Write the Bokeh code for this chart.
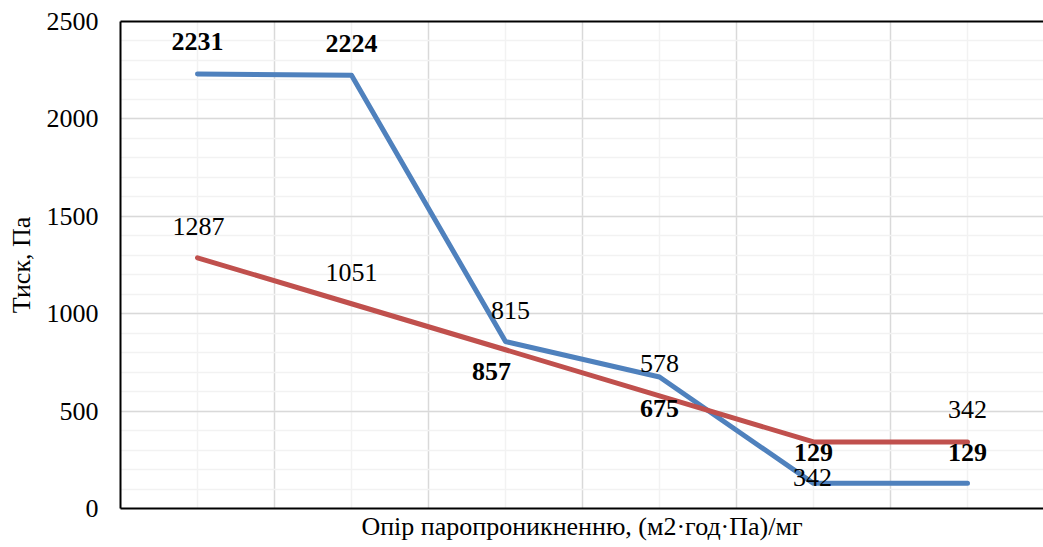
from bokeh.plotting import figure
from bokeh.models import Range1d, FixedTicker, LinearAxis, ColumnDataSource, Grid
from bokeh.core.properties import value
from bokeh.embed import file_html
from bokeh.resources import INLINE

# ---- data ----
points = [1, 2, 3, 4, 5, 6]                       # measurement points (no tick labels shown)
blue_values = [2231, 2224, 857, 675, 129, 129]    # series 1 (bold labels)
red_values = [1287, 1051, 815, 578, 342, 342]     # series 2 (regular labels)
y_ticks = [0, 500, 1000, 1500, 2000, 2500]
x_title = "Опір паропроникненню, (м2·год·Па)/мг"
y_title = "Тиск, Па"

# label offsets in screen pixels (dx, dy; dy positive = downwards)
blue_dx = [0, 0, -14, 0, 0, 0]
blue_dy = [-32, -32, 30, 31, -31, -31]
red_dx = [1, 0, 5, 0, -1, 0]
red_dy = [-31, -31, -39, -32, 36, -32]

FONT = "Liberation Serif"
BLUE = "#4F81BD"
RED = "#C0504D"

W, H = 1043, 547
p = figure(width=W, height=H, output_backend="svg", toolbar_location=None,
           x_range=Range1d(0.5, 0.5 + 923 / 154), y_range=Range1d(0, 2500),
           x_axis_location=None, y_axis_location=None,
           min_border_left=120, min_border_top=21, min_border_right=0,
           min_border_bottom=39)
p.outline_line_color = None
p.background_fill_color = "white"
p.border_fill_color = "white"

# axes
yax = LinearAxis(ticker=FixedTicker(ticks=y_ticks))
yax.axis_label = y_title
yax.axis_label_text_font = FONT
yax.axis_label_text_font_size = "26px"
yax.axis_label_text_font_style = "normal"
yax.axis_label_text_color = "black"
yax.axis_label_standoff = 8
yax.major_label_text_font = FONT
yax.major_label_text_font_size = "26px"
yax.major_label_text_color = "black"
yax.major_label_standoff = 22
yax.major_tick_out = 0
yax.major_tick_in = 0
yax.minor_tick_out = 0
yax.minor_tick_in = 0
yax.axis_line_color = "black"
yax.axis_line_width = 2
p.add_layout(yax, "left")

xax = LinearAxis(ticker=FixedTicker(ticks=[]))
xax.axis_label = x_title
xax.axis_label_text_font = FONT
xax.axis_label_text_font_size = "26px"
xax.axis_label_text_font_style = "normal"
xax.axis_label_text_color = "black"
xax.axis_label_standoff = 3
xax.major_label_standoff = 0
xax.major_tick_out = 0
xax.major_tick_in = 0
xax.minor_tick_out = 0
xax.minor_tick_in = 0
xax.axis_line_color = "black"
xax.axis_line_width = 2
p.add_layout(xax, "below")

tax = LinearAxis(ticker=FixedTicker(ticks=[]))
tax.major_label_standoff = 0
tax.major_tick_out = 0
tax.major_tick_in = 0
tax.minor_tick_out = 0
tax.minor_tick_in = 0
tax.axis_line_color = "black"
tax.axis_line_width = 2
p.add_layout(tax, "above")

# grids
xgrid = Grid(dimension=0, ticker=FixedTicker(
    ticks=[v - 0.5 for v in points] + [points[-1] + 0.5], minor_ticks=points))
ygrid = Grid(dimension=1, ticker=FixedTicker(
    ticks=y_ticks, minor_ticks=list(range(0, 2501, 100))))
for g in (xgrid, ygrid):
    g.grid_line_color = "#D9D9D9"
    g.grid_line_width = 1.5
    g.minor_grid_line_color = "#F2F2F2"
    g.minor_grid_line_width = 1.5
    g.level = "underlay"
    p.add_layout(g)

src = ColumnDataSource(dict(x=points, blue=blue_values, red=red_values,
                            blue_txt=[str(v) for v in blue_values],
                            red_txt=[str(v) for v in red_values],
                            bdx=blue_dx, bdy=blue_dy, rdx=red_dx, rdy=red_dy))

p.line("x", "blue", source=src, line_color=BLUE, line_width=5,
       line_cap="round", line_join="round")
p.line("x", "red", source=src, line_color=RED, line_width=5,
       line_cap="round", line_join="round")

p.text("x", "blue", text="blue_txt", source=src, x_offset="bdx", y_offset="bdy",
       text_font=value(FONT), text_font_size="26px", text_font_style="bold",
       text_color="black", text_align="center", text_baseline="middle")
p.text("x", "red", text="red_txt", source=src, x_offset="rdx", y_offset="rdy",
       text_font=value(FONT), text_font_size="26px", text_font_style="normal",
       text_color="black", text_align="center", text_baseline="middle")

open("out.html", "w").write(file_html(p, INLINE))
